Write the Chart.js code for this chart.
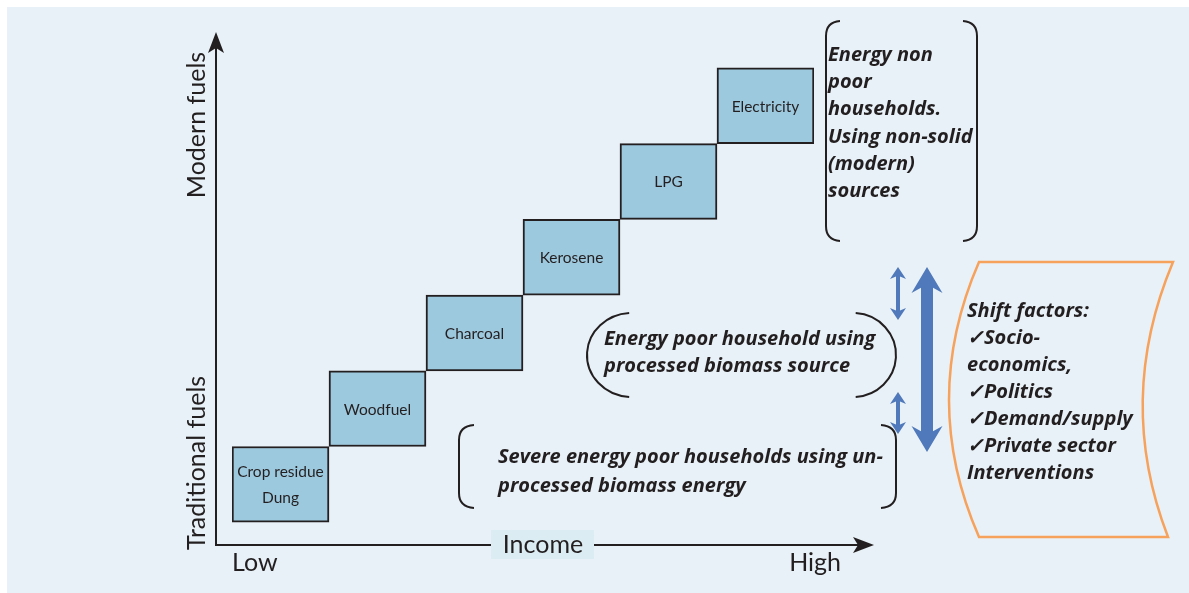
<!DOCTYPE html>
<html>
<head>
<meta charset="utf-8">
<title>Energy ladder</title>
<script src="https://cdn.jsdelivr.net/npm/chart.js@4.4.0/dist/chart.umd.min.js"></script>
<style>
  html, body { margin: 0; padding: 0; background: #fff; overflow: hidden; }
  canvas { display: block; }
</style>
</head>
<body>
<canvas id="ladder" width="1189" height="593"></canvas>
<script>
// fuel ladder: one step per fuel, from traditional (bottom) to modern (top)
const fuels = ["Crop residue", "Woodfuel", "Charcoal", "Kerosene", "LPG", "Electricity"];
const fuelLines = [["Crop residue", "Dung"], ["Woodfuel"], ["Charcoal"], ["Kerosene"], ["LPG"], ["Electricity"]];
const stepFrom = [0, 1, 2, 3, 4, 5];
const stepTo = [1, 2, 3, 4, 5, 6];

// annotation texts
const nonPoorText = ["Energy non", "poor", "households.", "Using non-solid", "(modern)", "sources"];
const processedText = ["Energy poor household using", "processed biomass source"];
const severeText = ["Severe energy poor households using un-", "processed biomass energy"];
const shiftText = ["Shift factors:", "\u2713Socio-", "economics,", "\u2713Politics", "\u2713Demand/supply", "\u2713Private sector", "Interventions"];

const ink = "#231f20";
const annFont = "italic bold 20px 'Open Sans', Lato, sans-serif";
const plainFont = "Lato, 'Open Sans', sans-serif";

function lines(ctx, arr, x, y, step) {
  arr.forEach((t, i) => ctx.fillText(t, x, y + i * step));
}

function blockArrow(ctx, x, y1, y2, shaft, head, headLen) {
  ctx.beginPath();
  ctx.moveTo(x, y1);
  ctx.lineTo(x + head / 2, y1 + headLen);
  ctx.lineTo(x + shaft / 2, y1 + headLen * 0.8);
  ctx.lineTo(x + shaft / 2, y2 - headLen * 0.8);
  ctx.lineTo(x + head / 2, y2 - headLen);
  ctx.lineTo(x, y2);
  ctx.lineTo(x - head / 2, y2 - headLen);
  ctx.lineTo(x - shaft / 2, y2 - headLen * 0.8);
  ctx.lineTo(x - shaft / 2, y1 + headLen * 0.8);
  ctx.lineTo(x - head / 2, y1 + headLen);
  ctx.closePath();
  ctx.fill();
}

// everything around the ladder is drawn here
const diagram = {
  id: "diagram",
  beforeDraw(chart) {
    const ctx = chart.ctx;
    ctx.save();
    ctx.fillStyle = "#ffffff";
    ctx.fillRect(0, 0, chart.width, chart.height);
    ctx.fillStyle = "#e8f1f7";
    ctx.fillRect(7, 7, chart.width - 7, chart.height - 7);
    ctx.restore();
  },
  afterDatasetsDraw(chart) {
    const ctx = chart.ctx;
    const bars = chart.getDatasetMeta(0).data;
    ctx.save();
    ctx.fillStyle = ink;
    ctx.font = "15.5px " + plainFont;
    ctx.textAlign = "center";
    ctx.textBaseline = "middle";
    bars.forEach((bar, i) => {
      const mid = (bar.y + bar.base) / 2;
      const ls = fuelLines[i];
      const gap = 26;
      lines(ctx, ls, bar.x, mid + 1 - (ls.length - 1) * gap / 2, gap);
    });
    ctx.restore();
  },
  afterDraw(chart) {
    const ctx = chart.ctx;
    ctx.save();

    // axes with arrow heads
    ctx.strokeStyle = ink;
    ctx.fillStyle = ink;
    ctx.lineWidth = 2;
    ctx.beginPath();
    ctx.moveTo(216, 48);
    ctx.lineTo(216, 545);
    ctx.lineTo(860, 545);
    ctx.stroke();
    ctx.beginPath();
    ctx.moveTo(216, 32);
    ctx.lineTo(224, 53);
    ctx.lineTo(216, 48);
    ctx.lineTo(208, 53);
    ctx.closePath();
    ctx.fill();
    ctx.beginPath();
    ctx.moveTo(874, 545);
    ctx.lineTo(853, 553);
    ctx.lineTo(858, 545);
    ctx.lineTo(853, 537);
    ctx.closePath();
    ctx.fill();

    // axis labels
    ctx.fillStyle = "#dcecf3";
    ctx.fillRect(491, 530, 103, 29);
    ctx.fillStyle = ink;
    ctx.font = "25px " + plainFont;
    ctx.textBaseline = "middle";
    ctx.textAlign = "center";
    ctx.fillText("Income", 543, 545);
    ctx.textAlign = "left";
    ctx.fillText("Low", 232, 563);
    ctx.textAlign = "right";
    ctx.fillText("High", 841, 563);
    ctx.save();
    ctx.font = "25px " + plainFont;
    ctx.translate(197, 0);
    ctx.rotate(-Math.PI / 2);
    ctx.textAlign = "center";
    ctx.fillText("Modern fuels", -125, 0);
    ctx.fillText("Traditional fuels", -463, 0);
    ctx.restore();

    // brackets
    ctx.lineWidth = 2;
    ctx.strokeStyle = ink;
    // top right square bracket pair
    ctx.beginPath();
    ctx.moveTo(840, 21);
    ctx.quadraticCurveTo(826, 22, 826, 36);
    ctx.lineTo(826, 226);
    ctx.quadraticCurveTo(826, 240, 840, 241);
    ctx.moveTo(963, 21);
    ctx.quadraticCurveTo(977, 22, 977, 36);
    ctx.lineTo(977, 226);
    ctx.quadraticCurveTo(977, 240, 963, 241);
    ctx.stroke();
    // middle round brackets
    ctx.beginPath();
    ctx.ellipse(632, 355, 45, 42, 0, Math.PI * 0.52, Math.PI * 1.48);
    ctx.stroke();
    ctx.beginPath();
    ctx.ellipse(853, 355, 43, 42, 0, -Math.PI * 0.48, Math.PI * 0.48);
    ctx.stroke();
    // bottom bracket pair
    ctx.beginPath();
    ctx.moveTo(474, 425);
    ctx.quadraticCurveTo(459, 426, 459, 440);
    ctx.lineTo(459, 493);
    ctx.quadraticCurveTo(459, 507, 474, 508);
    ctx.moveTo(881, 425);
    ctx.quadraticCurveTo(896, 426, 896, 440);
    ctx.lineTo(896, 493);
    ctx.quadraticCurveTo(896, 507, 881, 508);
    ctx.stroke();

    // shift arrows
    ctx.fillStyle = "#5079bb";
    blockArrow(ctx, 898, 267, 320, 4, 16, 12);
    blockArrow(ctx, 898, 392, 434, 4, 16, 12);
    blockArrow(ctx, 927, 267, 452, 12, 31, 26);

    // orange banner
    ctx.strokeStyle = "#f7a25c";
    ctx.lineWidth = 2.5;
    ctx.beginPath();
    ctx.moveTo(979, 262);
    ctx.lineTo(1173, 262);
    ctx.quadraticCurveTo(1115, 400, 1168, 537);
    ctx.lineTo(979, 537);
    ctx.quadraticCurveTo(919, 400, 979, 262);
    ctx.closePath();
    ctx.stroke();

    // annotation texts
    ctx.fillStyle = ink;
    ctx.font = annFont;
    ctx.textAlign = "left";
    ctx.textBaseline = "middle";
    lines(ctx, nonPoorText, 828, 55, 27.3);
    lines(ctx, processedText, 604, 339, 27);
    lines(ctx, severeText, 498, 457, 29);
    lines(ctx, shiftText, 967, 311, 27);

    ctx.restore();
  }
};

new Chart(document.getElementById("ladder"), {
  type: "bar",
  data: {
    labels: fuels,
    datasets: [{
      data: fuels.map((f, i) => [stepFrom[i], stepTo[i]]),
      backgroundColor: "#9dc9df",
      borderColor: ink,
      borderWidth: 2,
      borderSkipped: false,
      barPercentage: 1,
      categoryPercentage: 1
    }]
  },
  options: {
    responsive: false,
    animation: false,
    devicePixelRatio: 1,
    layout: { padding: { left: 232, right: 375, top: 30, bottom: 48 } },
    plugins: { legend: { display: false }, tooltip: { enabled: false } },
    scales: {
      x: { display: false, offset: true },
      y: { display: false, min: -0.3, max: 6.5 }
    }
  },
  plugins: [diagram]
});
</script>
</body>
</html>
